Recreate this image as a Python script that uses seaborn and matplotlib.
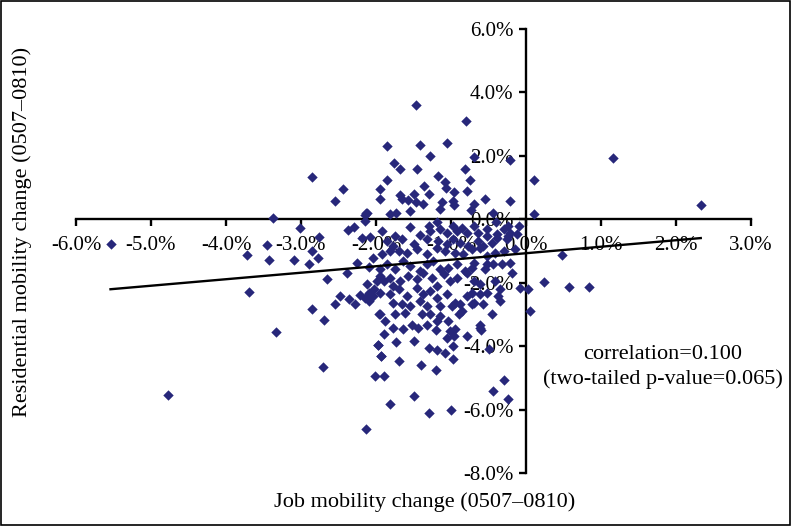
import matplotlib
matplotlib.use("Agg")
import matplotlib.pyplot as plt
from matplotlib.patches import Rectangle
from matplotlib.ticker import FuncFormatter
import seaborn as sns
import pandas as pd

# job mobility change (%), residential mobility change (%)
job_change = [
    # left side / outliers
    -5.54, -4.77, -3.72, -3.70, -3.46, -3.43, -3.37, -3.33, -3.10, -3.02,
    -2.89, -2.86, -2.86, -2.86, -2.77, -2.76, -2.71, -2.69, -2.66, -2.55,
    -2.55, -2.48, -2.44, -2.39, -2.37, -2.36, -2.29, -2.25, -2.21, -2.19,
    -2.15, -2.15, -2.13, -2.13, -2.12, -2.12, -2.10, -2.09, -2.08, -2.03,
    -2.01, -1.99, -1.97, -1.96, -1.95, -1.95, -1.94, -1.90, -1.82,
    # right of zero
    1.16, 0.10, 0.10, 2.33, 0.48, 0.24, 0.57, 0.84, -0.08, 0.03, 0.05,
    # upper cluster
    -1.47, -0.80, -1.86, -1.42, -1.05, -1.28, -0.22, -0.70, -1.76, -1.68,
    -1.45, -0.82, -1.86, -1.18, -1.08, -0.75, -1.36, -1.07, -0.96, -0.79,
    -1.30, -1.68, -1.49, -1.66, -1.57, -1.47, -1.38, -0.97, -0.96, -1.12,
    -1.15, -0.69, -0.55, -0.22, -0.73, -1.82, -1.73, -1.55, -0.44,
    # near the y axis
    -0.40, -0.24, -0.52, -0.15, -0.70, -0.55, -0.72, -0.70, -0.86, -0.61, -0.24,
    # lower tail
    -1.97, -1.74, -1.50, -1.20, -1.30, -1.19, -1.05, -0.96, -0.97, -1.08,
    -0.98, -0.60, -0.49, -1.94, -1.70, -1.40, -1.20, -0.30, -0.44, -0.24,
    -1.49, -1.30, -1.00, -1.90,
    # dense core
    -2.15, -1.92, -1.75, -1.55, -1.41, -1.30, -1.28, -1.19, -1.15, -1.06,
    -0.97, -0.92, -0.86, -0.79, -0.70, -0.64, -0.52, -0.39, -0.30, -0.21, -0.10,
    -1.86, -1.77, -1.66, -1.50, -1.32, -1.17, -1.06, -0.97, -0.88, -0.77,
    -0.64, -0.57, -0.46, -0.39, -0.26, -0.12,
    -2.04, -1.92, -1.81, -1.70, -1.59, -1.46, -1.32, -1.19, -1.08, -0.95,
    -0.84, -0.72, -0.61, -0.52, -0.41, -0.30, -0.21,
    -1.95, -1.86, -1.75, -1.64, -1.55, -1.41, -1.32, -1.24, -1.15, -1.04,
    -0.92, -0.81, -0.72, -0.52, -0.44, -0.32,
    -1.95, -1.90, -1.81, -1.77, -1.68, -1.57, -1.46, -1.37, -1.26, -1.19,
    -1.10, -1.01, -0.92, -0.79, -0.70, -0.61, -0.52, -0.41, -0.35, -0.19,
    -2.04, -1.95, -1.81, -1.70, -1.59, -1.46, -1.37, -1.28, -1.19, -1.06,
    -0.95, -0.79, -0.61, -0.37,
    -2.28, -2.10, -1.77, -1.66, -1.55, -1.41, -1.32, -1.15, -0.99, -0.88,
    -0.72, -0.57, -0.35,
    -1.95, -1.88, -1.75, -1.61, -1.52, -1.39, -1.28, -1.15, -1.04, -0.90,
    -0.61, -0.46,
    -1.77, -1.64, -1.44, -1.32, -1.19, -1.01, -0.95, -0.79,
]
res_change = [
    -0.77, -5.53, -1.13, -2.28, -0.82, -1.29, 0.05, -3.56, -1.29, -0.29,
    -1.40, -1.00, -2.82, 1.32, -1.21, -0.56, -4.65, -3.17, -1.89, -2.68,
    0.59, -2.42, 0.94, -1.70, -0.35, -2.50, -0.24, -1.39, -2.39, -0.58,
    0.13, -2.47, 0.19, -6.61, 0.21, -2.05, -2.31, -1.49, -0.56, -2.21,
    -4.95, -1.95, -3.97, -3.00, 0.95, 0.65, -4.32, -3.63, -5.81,
    1.92, 1.24, 0.16, 0.46, -1.13, -1.97, -2.13, -2.13, -2.16, -2.21, -2.89,
    3.59, 3.10, 2.30, 2.34, 2.39, 2.01, 1.87, 1.97, 1.76, 1.57,
    1.57, 1.58, 1.24, 1.36, 1.17, 1.24, 1.06, 0.98, 0.85, 0.89,
    0.79, 0.77, 0.80, 0.63, 0.61, 0.56, 0.47, 0.59, 0.44, 0.55,
    0.34, 0.47, 0.65, 0.59, 0.29, 0.16, 0.21, 0.26, 0.21,
    -0.08, -0.21, -0.53, -0.95, -1.37, -1.58, -2.32, -2.63, -2.89, -3.32, -0.53,
    -3.97, -3.87, -3.84, -3.49, -4.05, -4.13, -3.74, -3.68, -4.00, -4.21,
    -4.42, -3.49, -4.08, -4.32, -4.47, -4.60, -4.74, -5.08, -5.43, -5.68,
    -5.58, -6.10, -6.02, -4.95,
    -0.05, -0.37, -0.53, -0.24, -0.49, -0.21, -0.37, -0.10, -0.32, -0.42,
    -0.21, -0.37, -0.26, -0.42, -0.21, -0.42, -0.32, -0.47, -0.32, -0.42, -0.21,
    -0.68, -0.84, -0.63, -0.79, -0.63, -0.68, -0.79, -0.63, -0.74, -0.84,
    -0.68, -0.84, -0.74, -0.58, -0.63, -0.47,
    -1.21, -1.11, -1.00, -1.00, -1.05, -0.95, -1.11, -0.89, -1.00, -1.05,
    -1.11, -0.95, -0.89, -1.16, -1.05, -1.00, -1.37,
    -1.58, -1.42, -1.58, -1.32, -1.47, -1.63, -1.42, -1.32, -1.58, -1.53,
    -1.42, -1.63, -1.53, -1.42, -1.42, -1.42,
    -1.79, -1.95, -1.84, -2.11, -1.95, -1.79, -1.89, -1.68, -1.84, -2.11,
    -1.74, -1.95, -1.84, -1.68, -1.95, -2.05, -2.32, -1.95, -2.21, -1.68,
    -2.42, -2.32, -2.37, -2.21, -2.42, -2.16, -2.37, -2.26, -2.47, -2.37,
    -2.63, -2.42, -2.37, -2.42,
    -2.68, -2.58, -2.63, -2.68, -2.74, -2.58, -2.74, -2.74, -2.74, -2.68,
    -2.68, -2.68, -2.58,
    -3.00, -3.21, -3.00, -2.95, -3.32, -3.00, -3.00, -3.05, -3.21, -3.00,
    -3.42, -3.00,
    -3.42, -3.47, -3.42, -3.32, -3.21, -3.53, -3.47, -3.68,
]

# linear trend line as drawn in the chart
trend_slope = 0.205
trend_intercept = -1.07

df = pd.DataFrame({"job": job_change, "res": res_change})

plt.rcParams["font.family"] = ["Liberation Serif", "DejaVu Serif"]
tick_fs = 15
text_fs = 16

fig = plt.figure(figsize=(7.92, 5.26), dpi=100)
ax = fig.add_axes([76 / 792, 53 / 526, 675 / 792, 444 / 526])

sns.scatterplot(data=df, x="job", y="res", marker="D", s=28, color="#27277a",
                linewidth=0, ax=ax, zorder=3)

tx = [df["job"].min(), df["job"].max()]
ty = [trend_intercept + trend_slope * v for v in tx]
sns.lineplot(x=tx, y=ty, color="black", linewidth=1.7, ax=ax, zorder=4)

ax.set_xlim(-6, 3)
ax.set_ylim(-8, 6)
ax.set_xticks([-6, -5, -4, -3, -2, -1, 0, 1, 2, 3])
ax.set_yticks([-8, -6, -4, -2, 0, 2, 4, 6])
fmt = FuncFormatter(lambda v, p: f"{v:.1f}%")
ax.xaxis.set_major_formatter(fmt)
ax.yaxis.set_major_formatter(fmt)

for side in ["top", "right"]:
    ax.spines[side].set_visible(False)
ax.spines["left"].set_position(("data", 0))
ax.spines["bottom"].set_position(("data", 0))
for side in ["left", "bottom"]:
    ax.spines[side].set_linewidth(1.7)
    ax.spines[side].set_zorder(2)
ax.tick_params(axis="both", direction="out", length=5, width=1.7,
               labelsize=tick_fs, colors="black")
ax.tick_params(axis="x", pad=7)
ax.tick_params(axis="y", pad=4)
ax.set_xlabel("")
ax.set_ylabel("")
ax.patch.set_alpha(0)

fig.text(425 / 792, 1 - 502 / 526, "Job mobility change (0507–0810)",
         ha="center", va="center", fontsize=text_fs)
fig.text(22 / 792, 1 - 232 / 526, "Residential mobility change (0507–0810)",
         ha="center", va="center", rotation=90, fontsize=text_fs)
fig.text(663 / 792, 1 - 367 / 526,
         "correlation=0.100\n(two-tailed p-value=0.065)",
         ha="center", va="center", fontsize=text_fs, linespacing=1.3)

fig.patches.append(Rectangle((0.001, 0.002), 0.997, 0.996,
                             transform=fig.transFigure, fill=False,
                             edgecolor="black", linewidth=1.2))

fig.savefig("out.png", dpi=100)
